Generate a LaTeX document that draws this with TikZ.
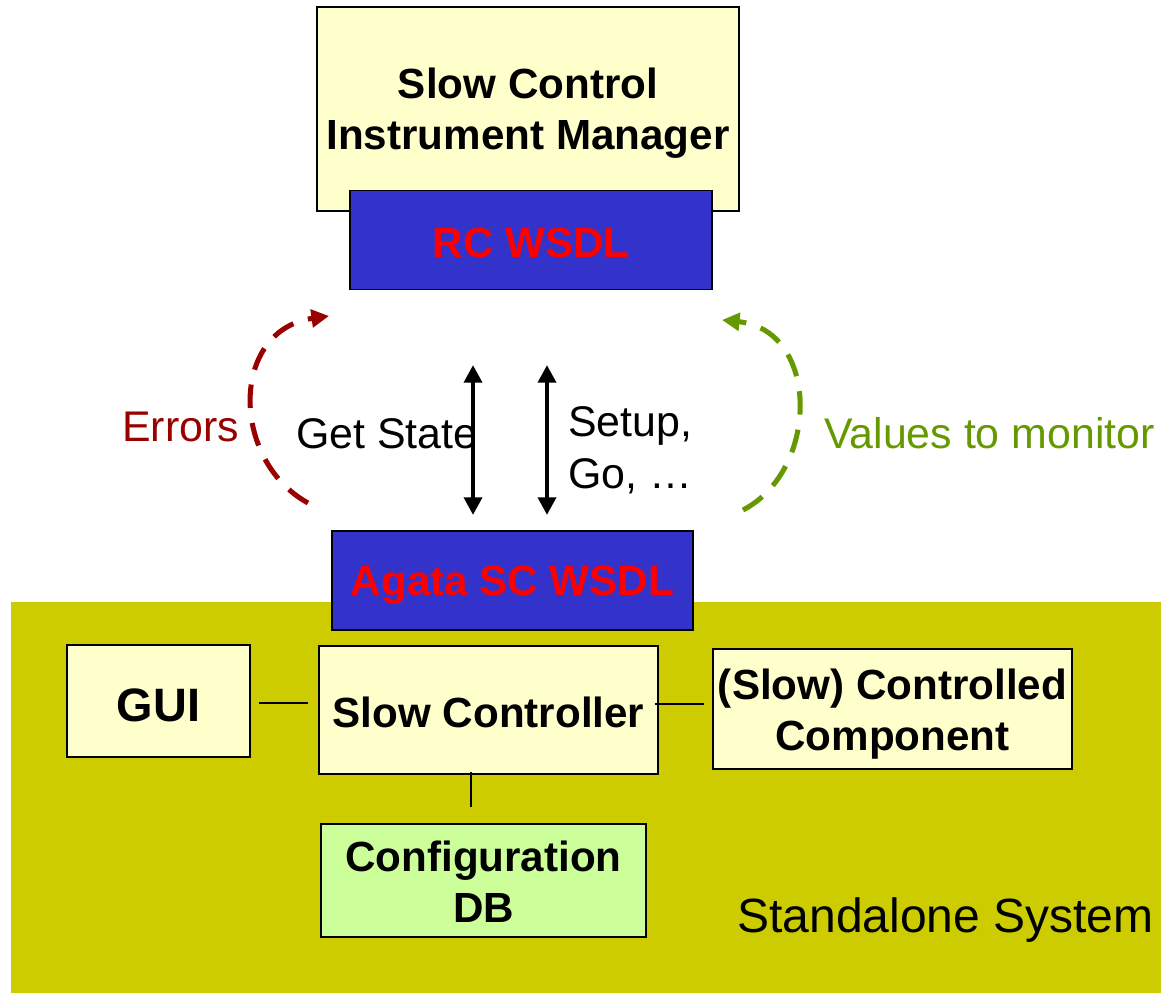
\documentclass[tikz,border=0pt]{standalone}
\usepackage{fontspec}
\setmainfont{Liberation Sans}
\usetikzlibrary{arrows.meta}
\definecolor{lightyel}{HTML}{FFFFCC}
\definecolor{wsdlblue}{HTML}{3333CC}
\definecolor{olivebg}{HTML}{CCCC00}
\definecolor{dbgreen}{HTML}{CCFF99}
\definecolor{errred}{HTML}{990000}
\definecolor{valgreen}{HTML}{669900}
\begin{document}
\begin{tikzpicture}[x=0.03cm,y=-0.03cm,
  box/.style={draw=black, line width=1.5pt, fill=lightyel, inner sep=0pt},
  btxt/.style={font=\bfseries\fontsize{36}{44}\selectfont, align=center, inner sep=0pt, yshift=-0.09cm},
  wtxt/.style={btxt, text=red},
  conn/.style={line width=1.6pt},
  biarrow/.style={line width=4pt, {Triangle[width=15pt,length=15pt]}-{Triangle[width=15pt,length=15pt]}},
  loopline/.style={line width=4.3pt, dash pattern=on 20pt off 13pt, -{Triangle[width=15pt,length=15pt]}},
  lbl/.style={font=\fontsize{36.6}{44}\selectfont, inner sep=0pt, anchor=base west}]
\useasboundingbox (0,0) rectangle (1161,993);
% background
\fill[olivebg] (11,602) rectangle (1161,993);
% boxes
\node[box, minimum width=12.66cm, minimum height=6.12cm,
  label={[btxt, yshift=-0.03cm]center:{Slow Control\\Instrument Manager}}] (scim) at (528,109) {};
\node[box, fill=wsdlblue, minimum width=10.86cm, minimum height=2.97cm,
  label={[wtxt]center:RC WSDL}] (rc) at (531,240) {};
\node[box, fill=wsdlblue, minimum width=10.83cm, minimum height=2.97cm,
  label={[wtxt, yshift=-0.06cm]center:Agata SC WSDL}] (agata) at (512.5,580.5) {};
\node[box, minimum width=5.49cm, minimum height=3.36cm,
  label={[btxt, font=\bfseries\fontsize{40}{48}\selectfont, yshift=-0.03cm]center:GUI}] (gui) at (158.5,701) {};
\node[box, minimum width=10.17cm, minimum height=3.84cm,
  label={[btxt, yshift=0.03cm]center:Slow Controller}] (sc) at (488.5,710) {};
\node[box, minimum width=10.77cm, minimum height=3.6cm,
  label={[btxt, yshift=-0.06cm]center:{(Slow) Controlled\\Component}}] (comp) at (892.5,709) {};
\node[box, fill=dbgreen, minimum width=9.75cm, minimum height=3.39cm,
  label={[btxt, yshift=0.06cm]center:{Configuration\\DB}}] (db) at (483.5,880.5) {};
% connectors
\draw[conn, shorten <=0.24cm, shorten >=0.3cm] (gui.east |- 0,703) -- (sc.west |- 0,703);
\draw[conn, shorten <=-0.12cm, shorten >=0.24cm] (sc.east |- 0,704) -- (comp.west |- 0,704);
\draw[conn, shorten <=-0.09cm, shorten >=0.48cm] (sc.south -| 471,0) -- (db.north -| 471,0);
% vertical arrows
\coordinate (a1t) at (473,365); \coordinate (a1b) at (473,515);
\coordinate (a2t) at (547,365); \coordinate (a2b) at (547,515);
\draw[biarrow] (a1t) -- (a1b);
\draw[biarrow] (a2t) -- (a2b);
% dashed loops
\coordinate (e1) at (308,503); \coordinate (e2) at (329,316);
\draw[loopline, errred] (e1) .. controls (230,460) and (230,330) .. (e2);
\coordinate (v1) at (743,510); \coordinate (v2) at (722,320);
\draw[loopline, valgreen] (v1) .. controls (820,470) and (820,330) .. (v2);
% labels
\node[lbl, text=errred] (err) at (122,441) {Errors};
\node[lbl] (gs) at (296,448) {Get State};
\node[lbl] (setup) at (568,436) {Setup,};
\node[lbl] (go) at (568,488) {Go, …};
\node[lbl, text=valgreen] (vals) at (824,448) {Values to monitor};
\node[lbl, font=\fontsize{41}{48}\selectfont] (sys) at (737,932) {Standalone System};
\end{tikzpicture}
\end{document}
